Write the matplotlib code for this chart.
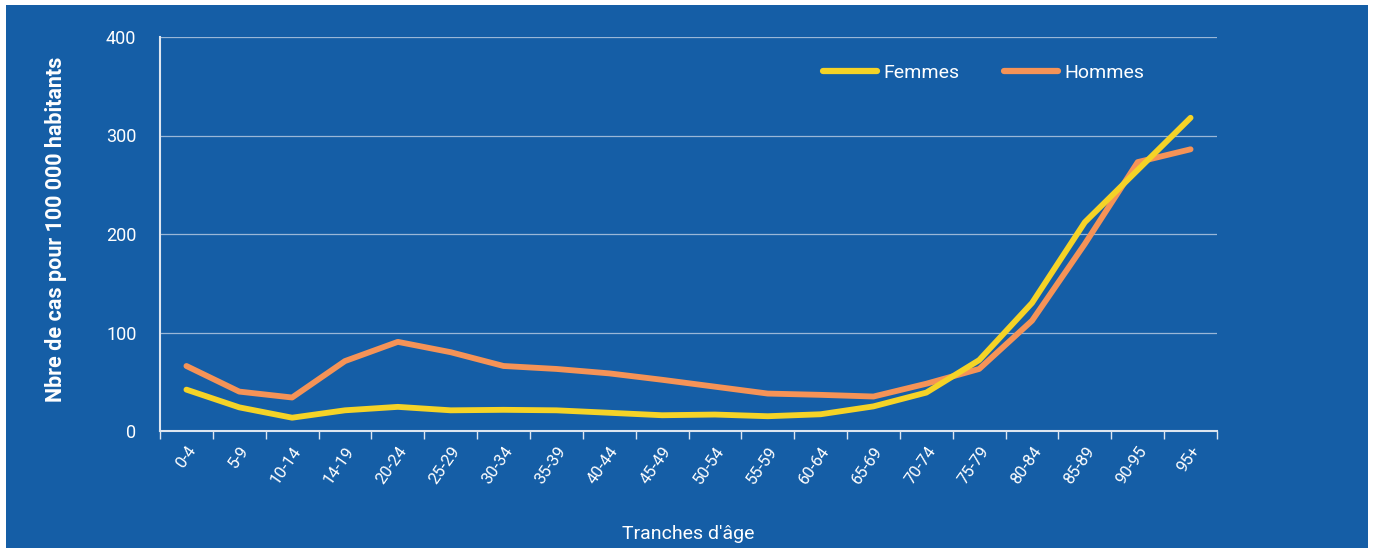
import matplotlib
matplotlib.use("Agg")
import matplotlib.pyplot as plt
from matplotlib.patches import Rectangle
from matplotlib.ticker import FixedLocator, NullFormatter

age_groups = ["0-4", "5-9", "10-14", "14-19", "20-24", "25-29", "30-34", "35-39",
              "40-44", "45-49", "50-54", "55-59", "60-64", "65-69", "70-74",
              "75-79", "80-84", "85-89", "90-95", "95+"]
femmes = [42, 24, 13.5, 21, 24.5, 21, 21.5, 21, 18.5, 16, 16.7, 15, 17, 25,
          39, 72, 130, 212, 265, 318]
hommes = [66, 40, 34, 71, 90.5, 80, 66, 63, 58.5, 52, 45, 38, 36.7, 35,
          48, 63, 112, 190, 273, 286]

blue = "#155ea6"
yellow = "#f5d327"
orange = "#f59357"
white = "#ffffff"

plt.rcParams["font.family"] = ["Roboto", "DejaVu Sans"]

fig = plt.figure(figsize=(13.73, 5.48), dpi=100, facecolor="white")
fig.patches.append(Rectangle((6 / 1373, 0), 1362 / 1373, 543 / 548,
                             transform=fig.transFigure, facecolor=blue,
                             edgecolor="none", zorder=-10))

ax = fig.add_axes([160 / 1373, 1 - 431 / 548, 1057 / 1373, 394 / 548])
ax.set_facecolor(blue)

x = range(len(age_groups))
ax.plot(x, femmes, color=yellow, lw=4.2, solid_capstyle="round", label="Femmes", zorder=3)
ax.plot(x, hommes, color=orange, lw=4.2, solid_capstyle="round", label="Hommes", zorder=2)

ax.set_xlim(-0.5, len(age_groups) - 0.5)
ax.set_ylim(0, 400)
ax.set_yticks([0, 100, 200, 300, 400])
ax.grid(axis="y", color="#c8d6e8", lw=0.9, alpha=0.75)
ax.set_axisbelow(True)

ax.set_xticks(list(x))
ax.set_xticklabels(age_groups, rotation=55, ha="right", va="top",
                   rotation_mode="anchor", fontsize=12, color=white)
ax.xaxis.set_minor_locator(FixedLocator([i - 0.5 for i in range(len(age_groups) + 1)]))
ax.xaxis.set_minor_formatter(NullFormatter())
ax.tick_params(axis="x", which="major", length=0, pad=9)
ax.tick_params(axis="x", which="minor", length=6, color="#dde6f0", width=1)
ax.tick_params(axis="y", length=0, labelsize=13, labelcolor=white, pad=17)

for side in ["top", "right"]:
    ax.spines[side].set_visible(False)
for side in ["left", "bottom"]:
    ax.spines[side].set_color("#dde6f0")
    ax.spines[side].set_linewidth(1.5)

ax.set_ylabel("Nbre de cas pour 100 000 habitants", fontsize=15.5,
              fontweight="bold", color=white)
ax.yaxis.set_label_coords(-0.088, 0.513)
ax.set_xlabel("Tranches d'âge", fontsize=14, color=white, labelpad=28)

leg = ax.legend(loc="center left", bbox_to_anchor=(0.627, 0.909), ncol=2,
                frameon=False, fontsize=14, handlelength=2.8, borderpad=0,
                borderaxespad=0, handletextpad=0.3, columnspacing=2.3,
                labelcolor=white)
for h in leg.get_lines():
    h.set_linewidth(4.5)

fig.savefig("out.png", dpi=100, facecolor=fig.get_facecolor())
